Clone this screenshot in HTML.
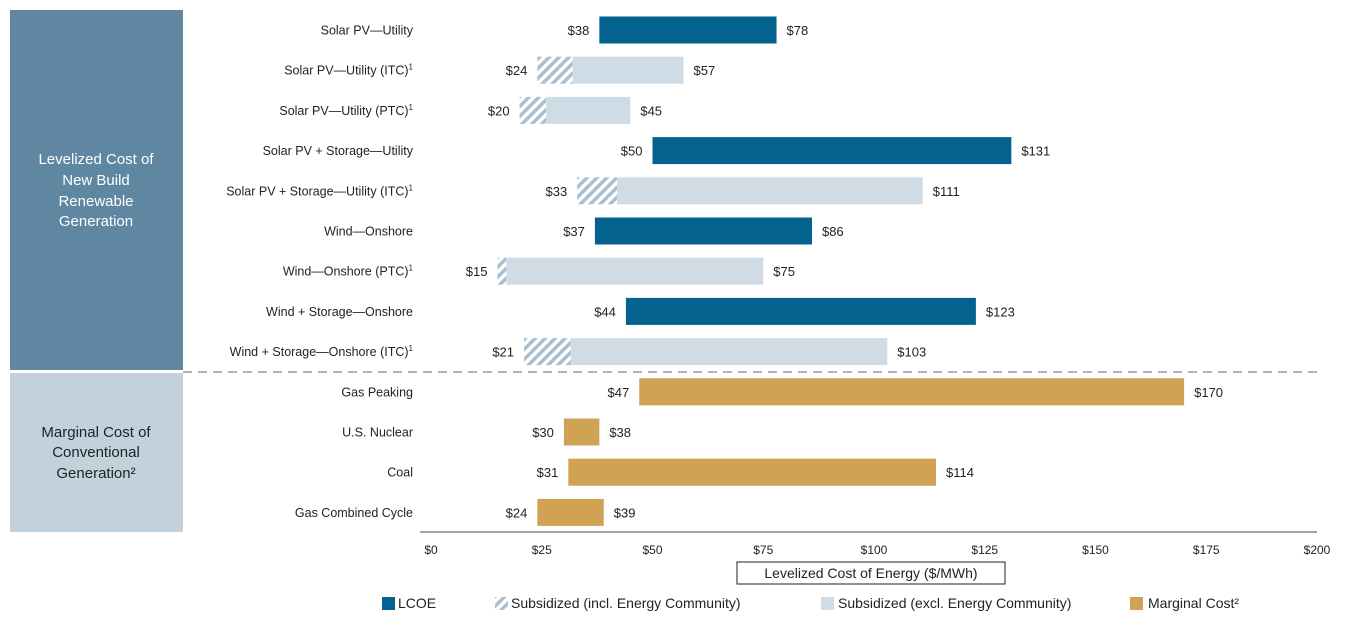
<!DOCTYPE html>
<html><head><meta charset="utf-8"><style>
body{margin:0;width:1357px;height:617px;background:#fff;font-family:"Liberation Sans",sans-serif;overflow:hidden}
</style></head><body>
<svg id="c" width="1357" height="617" xmlns="http://www.w3.org/2000/svg" font-family="Liberation Sans, sans-serif">
<defs>
<pattern id="hatch" patternUnits="userSpaceOnUse" width="7" height="7" patternTransform="rotate(45)">
<rect width="7" height="7" fill="#fff"/><rect width="3.5" height="7" fill="#a9bfcf"/>
</pattern>
</defs>
<rect x="10" y="10" width="173" height="360" fill="#5f87a1"/>
<text x="96" y="164" fill="#fff" font-size="15" text-anchor="middle"><tspan x="96">Levelized Cost of</tspan><tspan x="96" dy="21">New Build</tspan><tspan x="96" dy="21">Renewable</tspan><tspan x="96" dy="20">Generation</tspan></text>
<rect x="10" y="373" width="173" height="159" fill="#c2d2dd"/>
<text x="96" y="437" fill="#222" font-size="15" text-anchor="middle"><tspan x="96">Marginal Cost of</tspan><tspan x="96" dy="20">Conventional</tspan><tspan x="96" dy="21">Generation²</tspan></text>
<line x1="183" y1="372" x2="1322" y2="372" stroke="#999" stroke-width="1.5" stroke-dasharray="9,6"/>
<line x1="420" y1="532" x2="1317" y2="532" stroke="#444" stroke-width="1"/>
<g id="g"></g>
<rect x="737" y="562" width="268" height="22" fill="#fff" stroke="#222"/>
<text x="871" y="578" font-size="14" text-anchor="middle" fill="#222">Levelized Cost of Energy ($/MWh)</text>
<g font-size="14" fill="#222">
<rect x="382" y="597" width="13" height="13" fill="#04628f"/>
<text x="398" y="608">LCOE</text>
<rect x="495" y="597" width="13" height="13" fill="url(#hatch)"/>
<text x="511" y="608">Subsidized (incl. Energy Community)</text>
<rect x="821" y="597" width="13" height="13" fill="#cfdce6"/>
<text x="838" y="608">Subsidized (excl. Energy Community)</text>
<rect x="1130" y="597" width="13" height="13" fill="#d0a253"/>
<text x="1148" y="608">Marginal Cost²</text>
</g>
</svg>
<script>
const categories=["Solar PV—Utility","Solar PV—Utility (ITC)","Solar PV—Utility (PTC)","Solar PV + Storage—Utility","Solar PV + Storage—Utility (ITC)","Wind—Onshore","Wind—Onshore (PTC)","Wind + Storage—Onshore","Wind + Storage—Onshore (ITC)","Gas Peaking","U.S. Nuclear","Coal","Gas Combined Cycle"];
const sups=[false,true,true,false,true,false,true,false,true,false,false,false,false];
const lows=[38,24,20,50,33,37,15,44,21,47,30,31,24];
const highs=[78,57,45,131,111,86,75,123,103,170,38,114,39];
const hatchEnds=[null,32,26,null,42,null,17,null,31.5,null,null,null,null];
const types=["lcoe","sub","sub","lcoe","sub","lcoe","sub","lcoe","sub","marg","marg","marg","marg"];
const ticks=[0,25,50,75,100,125,150,175,200];
const NS="http://www.w3.org/2000/svg";
const g=document.getElementById('g');
const xs=v=>431+v*(1317-431)/200;
const ys=i=>30+i*40.2;
function mk(t,a){const e=document.createElementNS(NS,t);for(const k in a)e.setAttribute(k,a[k]);g.appendChild(e);return e;}
const cols={lcoe:"#04628f",sub:"#cfdce6",marg:"#d0a253"};
ticks.forEach(t=>{const e=mk('text',{x:xs(t),y:554,'font-size':12,'text-anchor':'middle',fill:'#222'});e.textContent='$'+t;

});
categories.forEach((c,i)=>{const y=ys(i);
const l=mk('text',{x:413,y:y+4.5,'font-size':12.5,'text-anchor':'end',fill:'#222'});l.textContent=c;
if(sups[i]){const s=document.createElementNS(NS,'tspan');s.setAttribute('font-size','8');s.setAttribute('dy','-5');s.textContent='1';l.appendChild(s);}


const start=hatchEnds[i]!=null?hatchEnds[i]:lows[i];
if(hatchEnds[i]!=null){const h=mk('rect',{x:xs(lows[i]),y:y-13.5,width:xs(hatchEnds[i])-xs(lows[i]),height:27,fill:'url(#hatch)'});

}
const b=mk('rect',{x:xs(start),y:y-13.5,width:xs(highs[i])-xs(start),height:27,fill:cols[types[i]]});


const lt=mk('text',{x:xs(lows[i])-10,y:y+5,'font-size':13,'text-anchor':'end',fill:'#222'});lt.textContent='$'+lows[i];


const ht=mk('text',{x:xs(highs[i])+10,y:y+5,'font-size':13,fill:'#222'});ht.textContent='$'+highs[i];


});
</script>
</body></html>
